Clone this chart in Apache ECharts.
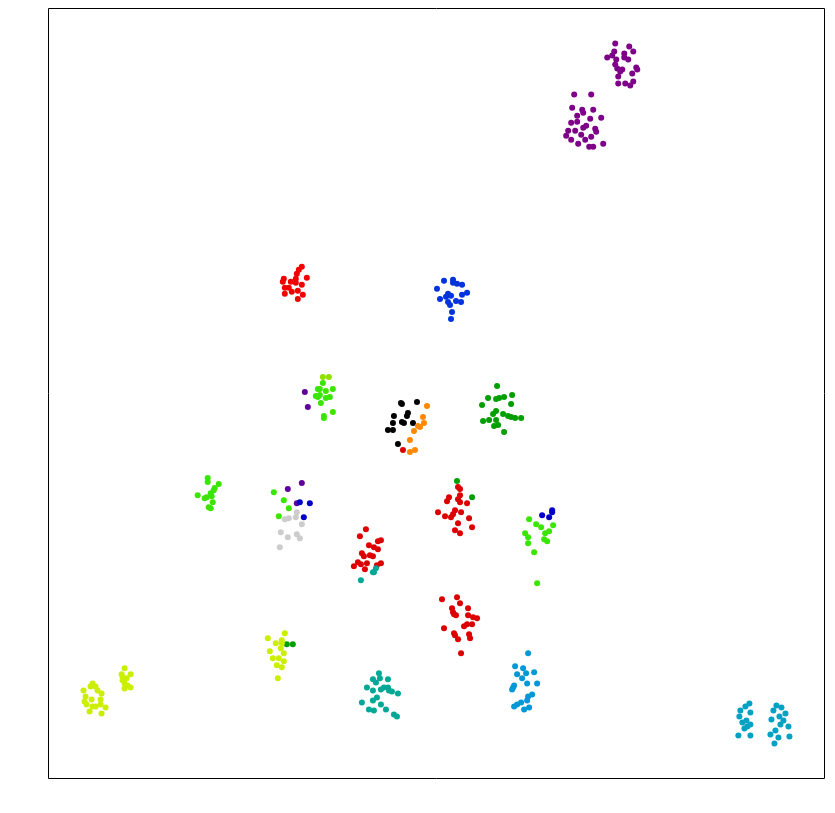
<!DOCTYPE html>
<html lang="en">
<head>
<meta charset="UTF-8">
<title>scatter embedding</title>
<style>
    * { margin: 0; padding: 0; }
    body { background: #fff; }
    #chart { width: 835px; height: 813px; }
</style>
<script src="https://cdn.jsdelivr.net/npm/echarts@6/dist/echarts.min.js"></script>
</head>
<body>
<div id="chart"></div>
<script>
// point positions (x right, y down)
var purple = [[615,44],[629,47],[633,52],[614,52],[612,56],[607,58],[624,54],[616,60],[624,58],[628,60],[615,65],[622,70],[617,69],[620,72],[636,68],[637,70],[632,74],[618,77],[633,82],[630,86],[625,84],[618,84],
    [574,95],[591,95],[572,108],[582,110],[593,110],[583,113],[577,116],[590,119],[601,118],[577,122],[571,123],[586,126],[583,128],[595,129],[596,132],[568,131],[575,131],[566,136],[581,135],[591,137],[571,140],[585,140],[578,144],[603,144],[589,147],[593,147]];
var violet = [[305,392],[308,407],[288,489],[302,483],[297,503]];
var navy = [[300,502],[310,503],[304,517],[542,515],[552,510],[552,512],[549,517]];
var blue = [[453,280],[444,281],[457,284],[453,283],[462,285],[437,289],[467,293],[462,295],[448,294],[451,296],[446,297],[440,299],[456,301],[461,302],[448,302],[450,305],[452,312],[451,319]];
var brightRed = [[302,267],[299,270],[297,274],[307,278],[284,279],[296,279],[291,282],[283,282],[296,283],[302,285],[285,288],[289,288],[292,292],[298,291],[285,294],[303,295],[298,299]];
var red = [[403,450],
    [458,487],[460,489],[460,495],[449,497],[458,499],[447,501],[460,502],[467,503],[455,510],[438,512],[461,512],[453,514],[445,516],[451,517],[469,518],[458,523],[472,527],[455,530],[460,533],
    [366,529],[360,536],[378,541],[381,540],[369,545],[374,547],[378,549],[362,553],[364,556],[370,555],[373,556],[358,562],[367,563],[361,564],[354,566],[381,563],[377,565],[365,569],
    [457,597],[442,599],[460,603],[452,608],[468,608],[453,612],[456,615],[454,614],[468,615],[473,617],[477,618],[472,624],[467,624],[464,626],[444,628],[454,633],[455,635],[469,634],[470,638],[458,639],[461,653]];
var grey = [[297,512],[289,518],[285,519],[296,517],[302,524],[281,532],[297,534],[300,538],[288,537],[280,547]];
var black = [[401,403],[402,404],[417,402],[408,413],[407,416],[394,416],[402,422],[404,423],[393,423],[413,423],[388,430],[393,430],[398,444]];
var orange = [[427,406],[423,417],[424,423],[418,426],[420,427],[414,431],[410,440],[415,450],[410,452]];
var darkGreen = [[497,386],[512,395],[504,397],[488,398],[499,398],[496,399],[482,405],[511,404],[496,411],[493,414],[503,414],[508,416],[511,417],[515,418],[521,418],[483,421],[489,420],[496,420],[498,425],[494,426],[504,432],
    [457,481],[472,497],[287,644],[293,644]];
var green = [[323,383],[318,389],[320,389],[326,391],[333,389],[320,395],[316,396],[330,397],[326,398],[318,397],[321,403],[333,412],[324,416],[324,418],
    [208,478],[208,482],[219,484],[215,488],[214,490],[198,495],[211,493],[212,496],[207,497],[205,498],[213,502],[209,507],[211,508],
    [274,492],[284,500],[289,508],[279,516],
    [529,519],[536,524],[541,527],[553,525],[549,531],[545,533],[525,533],[528,537],[544,539],[547,541],[528,543],[534,552],[537,583]];
var lime = [[323,377],[329,377]];
var yellowGreen = [[93,683],[91,686],[96,686],[84,690],[98,690],[102,693],[86,696],[92,699],[101,699],[85,701],[87,704],[101,704],[106,707],[93,706],[96,706],[90,711],[102,713],
    [125,668],[122,674],[131,674],[123,677],[127,678],[123,680],[125,683],[128,685],[131,687],[125,688],
    [285,633],[268,638],[282,640],[276,643],[282,643],[281,648],[284,653],[270,651],[273,658],[279,658],[284,661],[277,665],[282,667],[278,678]];
var teal = [[376,568],[374,572],[373,572],[361,580],
    [379,673],[373,679],[376,682],[380,678],[388,679],[367,687],[373,690],[381,689],[384,687],[388,687],[389,690],[392,691],[398,693],[377,697],[373,700],[362,702],[381,704],[369,709],[374,710],[386,709],[394,714],[397,716]];
var skyBlue = [[528,653],[515,666],[523,668],[534,672],[517,674],[526,673],[522,678],[514,685],[513,687],[512,689],[527,683],[537,683],[532,694],[528,696],[527,700],[521,702],[517,704],[514,706],[529,707],[524,709]];
var cyan = [[749,703],[745,706],[740,710],[750,712],[739,716],[746,720],[742,722],[750,724],[747,726],[744,728],[738,735],[750,735],
    [776,705],[781,707],[773,710],[785,713],[779,716],[771,719],[783,720],[780,724],[788,726],[775,730],[770,734],[778,737],[789,736],[774,743]];

var groups = [
    [purple, '#7f0088'], [violet, '#5e0099'], [navy, '#0000c8'], [blue, '#0033dd'],
    [brightRed, '#f00000'], [red, '#dd0000'], [grey, '#cccccc'], [black, '#000000'],
    [orange, '#ff8800'], [darkGreen, '#009f00'], [green, '#3ae600'], [lime, '#8fe000'],
    [yellowGreen, '#ccee00'], [teal, '#00a896'], [skyBlue, '#0099d6'], [cyan, '#00a2c4']
];

var chart = echarts.init(document.getElementById('chart'));
var series = groups.map(function (g) {
    return {
        type: 'scatter',
        data: g[0],
        symbolSize: 6,
        itemStyle: { color: g[1], opacity: 1 },
        silent: true
    };
});
chart.setOption({
    animation: false,
    grid: {
        // half-pixel offsets keep the 1px frame crisp
        left: 48.5, top: 8.5, right: 10.5, bottom: 34.5,
        show: true, borderColor: '#000', borderWidth: 1
    },
    xAxis: { type: 'value', min: 49, max: 824, show: false, splitLine: { show: false } },
    yAxis: { type: 'value', min: 9, max: 778, inverse: true, show: false, splitLine: { show: false } },
    series: series
});
</script>
</body>
</html>
